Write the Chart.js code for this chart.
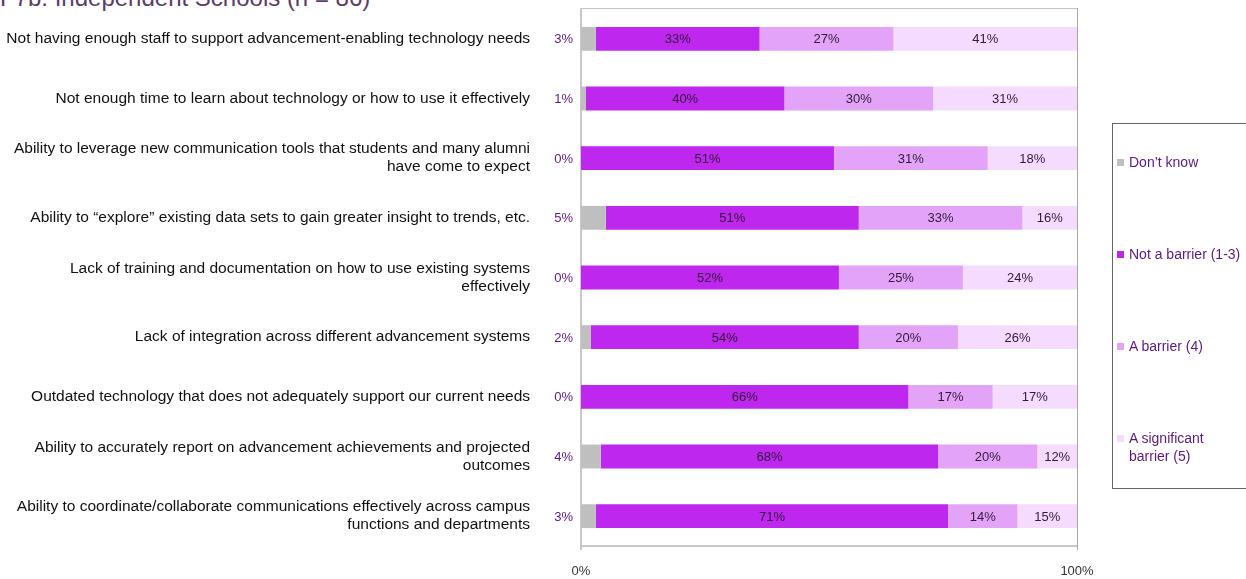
<!DOCTYPE html>
<html>
<head>
<meta charset="utf-8">
<title>Barriers to technology</title>
<script src="https://cdn.jsdelivr.net/npm/chart.js@4.4.1/dist/chart.umd.min.js"></script>
<style>
  body { margin: 0; background: #fff; font-family: "Liberation Sans", Arial, sans-serif; }
  #wrap { position: relative; width: 1246px; height: 579px; overflow: hidden; }
  #title { position: absolute; left: 0; top: -14px; font-size: 24px; line-height: 24px; color: #5a3d66; white-space: nowrap; }
  #chart { position: absolute; left: 0; top: 0; }
  #legend { position: absolute; left: 1112px; top: 123px; width: 150px; height: 366px; border: 1px solid #666; box-sizing: border-box; }
  .item { position: absolute; left: 4px; font-size: 14px; line-height: 18px; color: #5c1a7a; }
  .item i { display: inline-block; width: 7px; height: 7px; margin-right: 5px; vertical-align: 1px; }
  .item span { display: inline-block; vertical-align: top; }
</style>
</head>
<body>
<div id="wrap">
  <div id="title">F7b: Independent Schools (n = 86)</div>
  <canvas id="chart" width="1246" height="579"></canvas>
  <div id="legend"></div>
</div>
<script>
// Categorías (las etiquetas largas van partidas en dos líneas)
const categorias = [
  "Not having enough staff to support advancement-enabling technology needs",
  "Not enough time to learn about technology or how to use it effectively",
  ["Ability to leverage new communication tools that students and many alumni", "have come to expect"],
  "Ability to \u201cexplore\u201d existing data sets to gain greater insight to trends, etc.",
  ["Lack of training and documentation on how to use existing systems", "effectively"],
  "Lack of integration across different advancement systems",
  "Outdated technology that does not adequately support our current needs",
  ["Ability to accurately report on advancement achievements and projected", "outcomes"],
  ["Ability to coordinate/collaborate communications effectively across campus", "functions and departments"]
]

// Porcentajes por serie
const noSabe = [3, 1, 0, 5, 0, 2, 0, 4, 3]
const noBarrera = [33, 40, 51, 51, 52, 54, 66, 68, 71]
const barrera = [27, 30, 31, 33, 25, 20, 17, 20, 14]
const barreraSignificativa = [41, 31, 18, 16, 24, 26, 17, 12, 15]

const nombresSeries = ["Don\u2019t know", "Not a barrier (1-3)", "A barrier (4)", "A significant barrier (5)"]
const colores = ["#bfbfbf", "#bd27ee", "#e3a3f7", "#f5dbfd"]
const ticksEje = [0, 100]

const fuente = "'Liberation Sans', Arial, sans-serif"

// Marco gris alrededor del área de la gráfica
const marco = {
  id: "marco",
  beforeDatasetsDraw(chart) {
    const { ctx, chartArea: a } = chart
    ctx.save()
    ctx.strokeStyle = "#c4c4c4"
    ctx.lineWidth = 1
    ctx.beginPath()
    ctx.moveTo(a.left, a.top - 0.5)
    ctx.lineTo(a.right, a.top - 0.5)
    ctx.stroke()
    ctx.strokeStyle = "#a6a6a6"
    ctx.beginPath()
    ctx.moveTo(a.right + 0.5, a.top - 1)
    ctx.lineTo(a.right + 0.5, a.bottom + 4)
    ctx.stroke()
    ctx.strokeStyle = "#c8c8c8"
    ctx.lineWidth = 2
    ctx.beginPath()
    ctx.moveTo(a.left, a.bottom + 4)
    ctx.lineTo(a.left, a.top - 1)
    ctx.moveTo(a.left, a.bottom)
    ctx.lineTo(a.right, a.bottom)
    ctx.stroke()
    ctx.restore()
  }
}

// Etiquetas de valor: "Don't know" a la izquierda del eje, el resto centradas en la barra
const etiquetas = {
  id: "etiquetas",
  afterDatasetsDraw(chart) {
    const { ctx, chartArea: a } = chart
    ctx.save()
    ctx.font = "13px " + fuente
    ctx.textBaseline = "middle"
    chart.data.datasets.forEach((ds, i) => {
      chart.getDatasetMeta(i).data.forEach((bar, j) => {
        const valor = ds.data[j]
        if (i === 0) {
          ctx.fillStyle = "#5c1a7a"
          ctx.textAlign = "right"
          ctx.fillText(valor + "%", a.left - 8, bar.y + 1)
          return
        }
        const x0 = Math.max(Math.min(bar.base, bar.x), a.left)
        const x1 = Math.min(Math.max(bar.base, bar.x), a.right)
        if (x1 <= x0) return
        ctx.fillStyle = "#33193d"
        ctx.textAlign = "center"
        ctx.fillText(valor + "%", (x0 + x1) / 2, bar.y + 1)
      })
    })
    ctx.restore()
  }
}

const series = [noSabe, noBarrera, barrera, barreraSignificativa]

const chart = new Chart(document.getElementById("chart"), {
  type: "bar",
  data: {
    labels: categorias,
    datasets: series.map((datos, i) => ({
      label: nombresSeries[i],
      data: datos,
      backgroundColor: colores[i],
      borderWidth: 0,
      barPercentage: 0.4,
      categoryPercentage: 1
    }))
  },
  options: {
    indexAxis: "y",
    responsive: false,
    animation: false,
    layout: { padding: { left: 0, right: 169, top: 9, bottom: 0 } },
    plugins: {
      legend: { display: false },
      tooltip: { enabled: false }
    },
    scales: {
      x: {
        stacked: true,
        min: 0,
        max: 100,
        afterBuildTicks: (scale) => { scale.ticks = ticksEje.map((v) => ({ value: v })) },
        afterFit: (scale) => {
          scale.height = 33
          scale.paddingLeft = 0
          scale.paddingRight = 0
        },
        grid: { display: false, drawTicks: false },
        border: { display: false },
        ticks: {
          padding: 18,
          color: "#333",
          font: { family: fuente, size: 13 },
          callback: (v) => v + "%"
        }
      },
      y: {
        stacked: true,
        afterFit: (scale) => {
          scale.width = 581
          scale.paddingTop = 0
          scale.paddingBottom = 0
        },
        grid: { display: false, drawTicks: false },
        border: { display: false },
        ticks: {
          padding: 51,
          color: "#111",
          font: { family: fuente, size: 15.5, lineHeight: 1.16 }
        }
      }
    }
  },
  plugins: [marco, etiquetas]
})

// Leyenda en HTML construida desde las series
const posiciones = [29, 121, 213, 305]
const leyenda = document.getElementById("legend")
chart.data.datasets.forEach((ds, i) => {
  const div = document.createElement("div")
  div.className = "item"
  div.style.top = posiciones[i] + "px"
  const texto = i === 3 ? "A significant<br>barrier (5)" : ds.label
  div.innerHTML = `<i style="background:${ds.backgroundColor}"></i><span>${texto}</span>`
  leyenda.appendChild(div)
})
</script>
</body>
</html>
